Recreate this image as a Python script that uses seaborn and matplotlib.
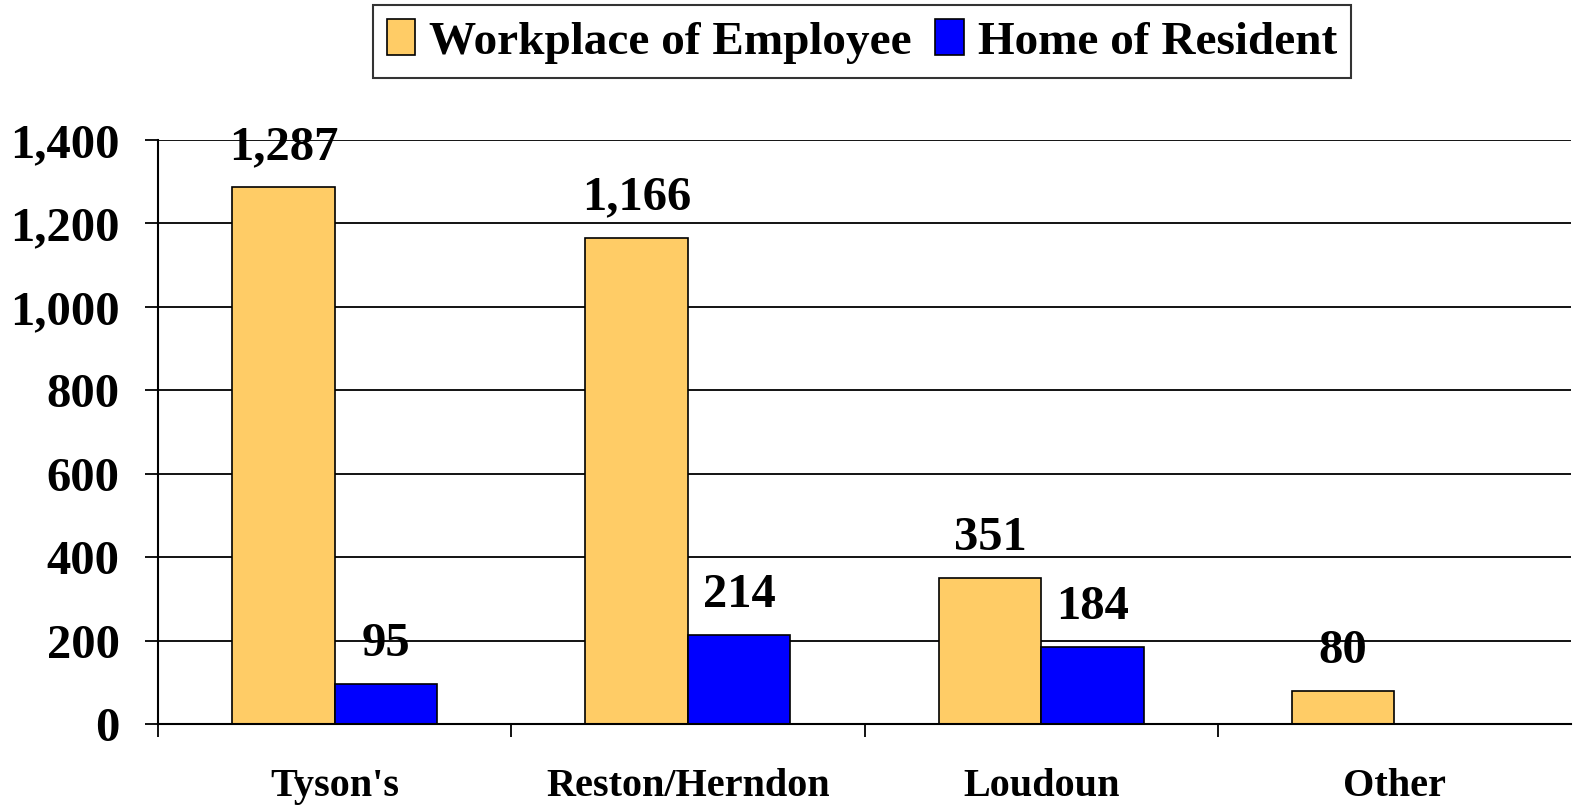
import matplotlib
matplotlib.use("Agg")
import matplotlib.pyplot as plt
import seaborn as sns
import pandas as pd
import numpy as np
from matplotlib.ticker import FixedLocator, FuncFormatter

categories = ["Tyson's", "Reston/Herndon", "Loudoun", "Other"]
workplace = [1287, 1166, 351, 80]
home = [95, 214, 184, np.nan]
series = ["Workplace of Employee", "Home of Resident"]
colors = ["#FFCC66", "#0000FF"]

df = pd.DataFrame({
    "category": categories * 2,
    "value": workplace + home,
    "series": [series[0]] * 4 + [series[1]] * 4,
}).dropna()

sns.set_theme(style="white")
plt.rcParams["font.family"] = ["Liberation Serif", "DejaVu Serif"]
plt.rcParams["font.weight"] = "bold"
plt.rcParams["text.color"] = "black"
plt.rcParams["xtick.color"] = "black"
plt.rcParams["ytick.color"] = "black"

fig = plt.figure(figsize=(15.75, 8.08), dpi=100)
ax = fig.add_axes([158 / 1575, 1 - 724 / 808, (1571 - 158) / 1575, (724 - 140) / 808])

sns.barplot(data=df, x="category", y="value", hue="series", palette=colors,
            order=categories, hue_order=series, width=0.58, edgecolor="black",
            linewidth=1.2, ax=ax, saturation=1, legend=True)

ax.set_ylim(0, 1400)
ax.set_xlim(-0.5, 3.5)
ax.set_yticks(range(0, 1401, 200))
ax.yaxis.set_major_formatter(FuncFormatter(lambda v, p: f"{int(v):,}"))
ax.grid(axis="y", color="black", linewidth=1.3)
ax.set_axisbelow(True)
for s in ["top", "right"]:
    ax.spines[s].set_visible(False)
for s in ["left", "bottom"]:
    ax.spines[s].set_color("black")
    ax.spines[s].set_linewidth(1.5)

ax.tick_params(axis="y", which="major", direction="out", length=9.5, width=1.3,
               color="black", labelcolor="black", pad=18, labelsize=35, left=True)
ax.tick_params(axis="x", which="major", length=0, pad=32, labelsize=29, labelcolor="black")
ax.xaxis.set_minor_locator(FixedLocator([-0.5, 0.5, 1.5, 2.5]))
ax.tick_params(axis="x", which="minor", direction="out", length=9, width=1.3,
               color="black", bottom=True)
for lbl in ax.get_xticklabels() + ax.get_yticklabels():
    lbl.set_fontweight("bold")
ax.set_xlabel("")
ax.set_ylabel("")

for cont in ax.containers:
    bars = [b for b in cont if b is not None]
    for b in bars:
        ax.annotate(f"{int(round(b.get_height())):,}", (b.get_x() + b.get_width() / 2, b.get_height()),
                    xytext=(0, 13), textcoords="offset points", ha="center", va="bottom",
                    fontsize=35, fontweight="bold", color="black")

handles, lbls = ax.get_legend_handles_labels()
ax.get_legend().remove()
leg = fig.legend(handles, lbls, loc="upper center", bbox_to_anchor=(862 / 1575, 1 - 5 / 808),
                 ncol=2, frameon=True, fancybox=False, edgecolor="black",
                 prop={"size": 34, "weight": "bold"}, handlelength=0.6, handleheight=0.8,
                 handletextpad=0.3, columnspacing=0.5, borderpad=0.3, borderaxespad=0)
leg.get_frame().set_linewidth(1.5)
for t in leg.get_texts():
    t.set_color("black")

fig.savefig("out.png", dpi=100)
